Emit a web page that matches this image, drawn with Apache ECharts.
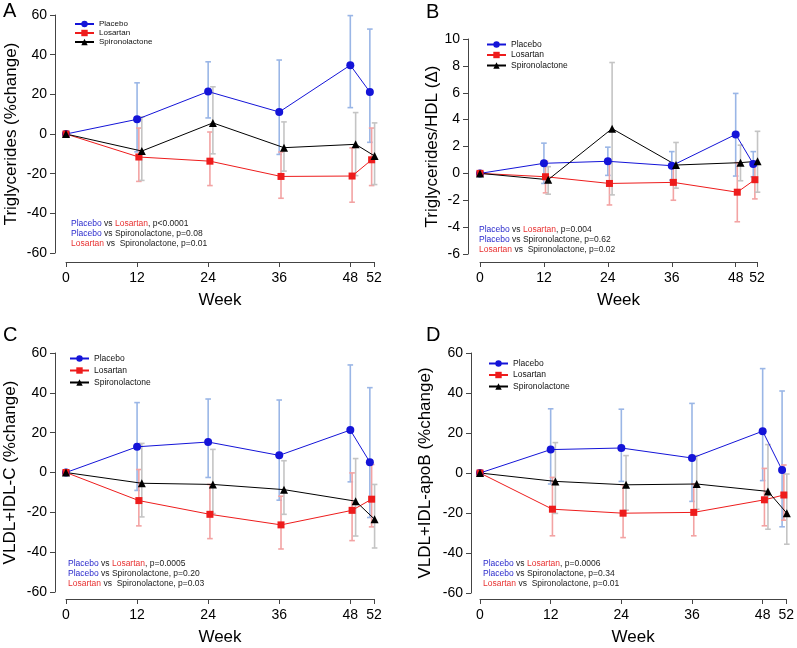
<!DOCTYPE html>
<html><head><meta charset="utf-8">
<script src="https://cdn.jsdelivr.net/npm/echarts@6/dist/echarts.min.js"></script>
<style>html,body{margin:0;padding:0;background:#fff}#c{width:797px;height:648px}</style>
</head><body><div id="c"></div>
<script>
// ---------- data ----------
const weekTicks = [0, 12, 24, 36, 48, 52];
const placeboWeeks = [0, 12, 24, 36, 48, 51.3];
const losartanWeeks = [0, 12.3, 24.3, 36.3, 48.3, 51.6];
const spiroWeeks = [0, 12.8, 24.8, 36.8, 48.9, 52.1];
const groupNames = ['Placebo', 'Losartan', 'Spironolactone'];
const panelLetters = ['A', 'B', 'C', 'D'];
const yTitles = ['Triglycerides (%change)', 'Triglycerides/HDL (\u0394)', 'VLDL+IDL-C (%change)', 'VLDL+IDL-apoB (%change)'];
const pPlaceboLosartan = ['p<0.0001', 'p=0.004', 'p=0.0005', 'p=0.0006'];
const pPlaceboSpiro = ['p=0.08', 'p=0.62', 'p=0.20', 'p=0.34'];
const pLosartanSpiro = ['p=0.01', 'p=0.02', 'p=0.03', 'p=0.01'];

// Panel A: Triglycerides (%change)
const aPlacebo = [0, 7.4, 21.4, 11.1, 34.7, 21.2];
const aPlaceboHigh = [null, 25.8, 36.4, 37.3, 59.7, 52.9];
const aPlaceboLow = [null, -9, 8.1, -10.3, 13.3, -4.2];
const aLosartan = [0, -11.6, -13.7, -21.4, -21.2, -13.0];
const aLosartanHigh = [null, 3.0, 1.0, -9.1, -7, 3.0];
const aLosartanLow = [null, -23.9, -26.0, -32.4, -34.4, -26];
const aSpiro = [0, -8.6, 5.6, -6.9, -5.2, -11.1];
const aSpiroHigh = [null, 8.6, 23.8, 6.1, 10.8, 5.6];
const aSpiroLow = [null, -23.4, -10.0, -18.7, -21, -25.5];

// Panel B: Triglycerides/HDL (delta)
const bPlacebo = [0, 0.75, 0.9, 0.57, 2.9, 0.7];
const bPlaceboHigh = [null, 2.25, 1.95, 1.62, 5.95, 1.62];
const bPlaceboLow = [null, -0.75, -0.15, -0.5, -0.2, -0.25];
const bLosartan = [0, -0.25, -0.75, -0.67, -1.4, -0.47];
const bLosartanHigh = [null, 0.9, 0.85, 0.6, 0.8, 0.9];
const bLosartanLow = [null, -1.45, -2.35, -2.0, -3.6, -1.9];
const bSpiro = [0, -0.47, 3.33, 0.62, 0.8, 0.9];
const bSpiroHigh = [null, 0.5, 8.25, 2.3, 2.1, 3.13];
const bSpiroLow = [null, -1.55, -1.6, -1.1, -0.55, -1.4];

// Panel C: VLDL+IDL-C (%change)
const cPlacebo = [0, 12.9, 15.3, 8.6, 21.3, 5.2];
const cPlaceboHigh = [null, 35.1, 36.9, 36.4, 54.0, 42.6];
const cPlaceboLow = [null, -9, -2.5, -13.9, -4.7, -22.6];
const cLosartan = [0, -14.1, -21.0, -26.3, -19.0, -13.4];
const cLosartanHigh = [null, 1.5, -6, -11.9, -0.2, 4.0];
const cLosartanLow = [null, -26.8, -33.2, -38.4, -34.2, -27.3];
const cSpiro = [0, -5.4, -6.0, -8.6, -14.4, -23.5];
const cSpiroHigh = [null, 14.6, 11.6, 5.9, 7.0, -6.0];
const cSpiroLow = [null, -22.3, -20.6, -21.0, -31.9, -37.9];

// Panel D: VLDL+IDL-apoB (%change)
const dPlacebo = [0, 11.7, 12.5, 7.5, 20.9, 1.5];
const dPlaceboHigh = [null, 32.1, 31.9, 34.8, 52.2, 41.0];
const dPlaceboLow = [null, -5.5, -4.2, -14.2, -3.8, -26.9];
const dLosartan = [0, -18.1, -20.1, -19.7, -13.4, -11.0];
const dLosartanHigh = [null, -2.2, -5.9, -5.5, 2.3, 4.0];
const dLosartanLow = [null, -31.4, -32.3, -31.4, -26.4, -23.6];
const dSpiro = [0, -4.2, -5.9, -5.5, -9.2, -20.1];
const dSpiroHigh = [null, 15.2, 8.7, 8.7, 14.2, -0.5];
const dSpiroLow = [null, -20.2, -18.6, -18.1, -28.1, -35.6];

const yMin = [-60, -6, -60, -60];
const yMax = [60, 10, 60, 60];
const yStep = [20, 2, 20, 20];

// ---------- styling ----------
const FONT = 'Liberation Sans, Arial, Helvetica, sans-serif';
const lineColors = ['#1414d8', '#ee1c1c', '#000000'];
const barColors = ['#9ab6e6', '#f3a3a3', '#c4c4c4'];
const symbols = ['circle', 'rect', 'triangle'];
const symbolSizes = [8, 7, 8];
const groupWeeks = [placeboWeeks, losartanWeeks, spiroWeeks];

const grids = [
  {left: 66, top: 15, width: 308, height: 238},
  {left: 480, top: 39, width: 277, height: 215},
  {left: 66, top: 353, width: 308, height: 239},
  {left: 480, top: 353, width: 308, height: 240}
];
const yOffsets = [11, 12, 11, 9];
const xOffsets = [9, 8, 7, 6];
const yNameGaps = [35, 26, 36, 37];
const legendPos = [
  {left: 74, top: 20, gap: 1, fs: 8},
  {left: 486, top: 40, gap: 1.5, fs: 8.5},
  {left: 69, top: 354, gap: 3, fs: 8.5},
  {left: 488, top: 359, gap: 2.5, fs: 8.5}
];
const notePos = [[71, 219], [479, 225], [68, 559], [483, 559]];
const letterPos = [[3, 1], [426, 2], [3, 325], [426, 325]];

const panels = [
  {means: [aPlacebo, aLosartan, aSpiro], highs: [aPlaceboHigh, aLosartanHigh, aSpiroHigh], lows: [aPlaceboLow, aLosartanLow, aSpiroLow]},
  {means: [bPlacebo, bLosartan, bSpiro], highs: [bPlaceboHigh, bLosartanHigh, bSpiroHigh], lows: [bPlaceboLow, bLosartanLow, bSpiroLow]},
  {means: [cPlacebo, cLosartan, cSpiro], highs: [cPlaceboHigh, cLosartanHigh, cSpiroHigh], lows: [cPlaceboLow, cLosartanLow, cSpiroLow]},
  {means: [dPlacebo, dLosartan, dSpiro], highs: [dPlaceboHigh, dLosartanHigh, dSpiroHigh], lows: [dPlaceboLow, dLosartanLow, dSpiroLow]}
];

const xAxes = [], yAxes = [], series = [], legends = [], graphics = [];

panels.forEach((p, k) => {
  xAxes.push({
    type: 'value', gridIndex: k, min: 0, max: 52, offset: xOffsets[k],
    name: 'Week', nameLocation: 'middle', nameGap: 30,
    nameTextStyle: {fontFamily: FONT, fontSize: 17, color: '#000'},
    axisLine: {show: true, onZero: false, lineStyle: {color: '#444', width: 1}},
    axisTick: {show: true, length: 5, customValues: weekTicks, lineStyle: {color: '#444'}},
    axisLabel: {customValues: weekTicks, margin: 9, fontFamily: FONT, fontSize: 14, color: '#000'},
    splitLine: {show: false}
  });
  yAxes.push({
    type: 'value', gridIndex: k, min: yMin[k], max: yMax[k], interval: yStep[k], offset: yOffsets[k],
    name: yTitles[k], nameLocation: 'middle', nameGap: yNameGaps[k],
    nameTextStyle: {fontFamily: FONT, fontSize: 17, color: '#000'},
    axisLine: {show: true, onZero: false, lineStyle: {color: '#444', width: 1}},
    axisTick: {show: true, length: 5, lineStyle: {color: '#444'}},
    axisLabel: {margin: 8, fontFamily: FONT, fontSize: 14, color: '#000'},
    splitLine: {show: false}
  });
  // error bars first (lower z)
  for (let g = 0; g < 3; g++) {
    const col = barColors[g];
    const data = [];
    groupWeeks[g].forEach((w, i) => {
      if (p.lows[g][i] != null) data.push([w, p.lows[g][i], p.highs[g][i]]);
    });
    series.push({
      type: 'custom', name: groupNames[g] + ' range', xAxisIndex: k, yAxisIndex: k, z: 1,
      clip: false, silent: true,
      encode: {x: 0, y: [1, 2]},
      data: data,
      renderItem: function (params, api) {
        const x = api.value(0), lo = api.value(1), hi = api.value(2);
        const a = api.coord([x, lo]), b = api.coord([x, hi]);
        const cw = 2.8;
        const st = {stroke: col, lineWidth: 1.6};
        return {type: 'group', children: [
          {type: 'line', shape: {x1: a[0], y1: a[1], x2: b[0], y2: b[1]}, style: st},
          {type: 'line', shape: {x1: b[0] - cw, y1: b[1], x2: b[0] + cw, y2: b[1]}, style: st},
          {type: 'line', shape: {x1: a[0] - cw, y1: a[1], x2: a[0] + cw, y2: a[1]}, style: st}
        ]};
      }
    });
  }
  for (let g = 0; g < 3; g++) {
    series.push({
      type: 'line', name: groupNames[g], xAxisIndex: k, yAxisIndex: k, z: 3,
      clip: false, animation: false,
      symbol: symbols[g], symbolSize: symbolSizes[g], showAllSymbol: true,
      lineStyle: {color: lineColors[g], width: 1},
      itemStyle: {color: lineColors[g]},
      data: groupWeeks[g].map((w, i) => [w, p.means[g][i]])
    });
  }
  const lp = legendPos[k];
  legends.push({
    data: groupNames, orient: 'vertical', left: lp.left, top: lp.top, padding: 0,
    itemWidth: 19, itemHeight: 8, itemGap: lp.gap, selectedMode: false,
    textStyle: {fontFamily: FONT, fontSize: lp.fs, color: '#111'}
  });
  graphics.push({
    type: 'text', left: notePos[k][0], top: notePos[k][1],
    style: {
      text: '{b|Placebo} {k|vs} {r|Losartan}{k|, ' + pPlaceboLosartan[k] + '}\n' +
            '{b|Placebo} {k|vs Spironolactone, ' + pPlaceboSpiro[k] + '}\n' +
            '{r|Losartan} {k|vs  Spironolactone, ' + pLosartanSpiro[k] + '}',
      font: '8.5px ' + FONT,
      lineHeight: 9.8,
      rich: {
        b: {fill: '#2a2acc', fontSize: 8.5, fontFamily: FONT, lineHeight: 9.8},
        r: {fill: '#e83030', fontSize: 8.5, fontFamily: FONT, lineHeight: 9.8},
        k: {fill: '#222', fontSize: 8.5, fontFamily: FONT, lineHeight: 9.8}
      }
    }
  });
  graphics.push({
    type: 'text', left: letterPos[k][0], top: letterPos[k][1],
    style: {text: panelLetters[k], font: '20px ' + FONT, fill: '#000'}
  });
});

const chart = echarts.init(document.getElementById('c'), null, {renderer: 'canvas'});
chart.setOption({
  animation: false,
  backgroundColor: '#fff',
  grid: grids,
  xAxis: xAxes,
  yAxis: yAxes,
  legend: legends,
  series: series,
  graphic: graphics
});
</script></body></html>
